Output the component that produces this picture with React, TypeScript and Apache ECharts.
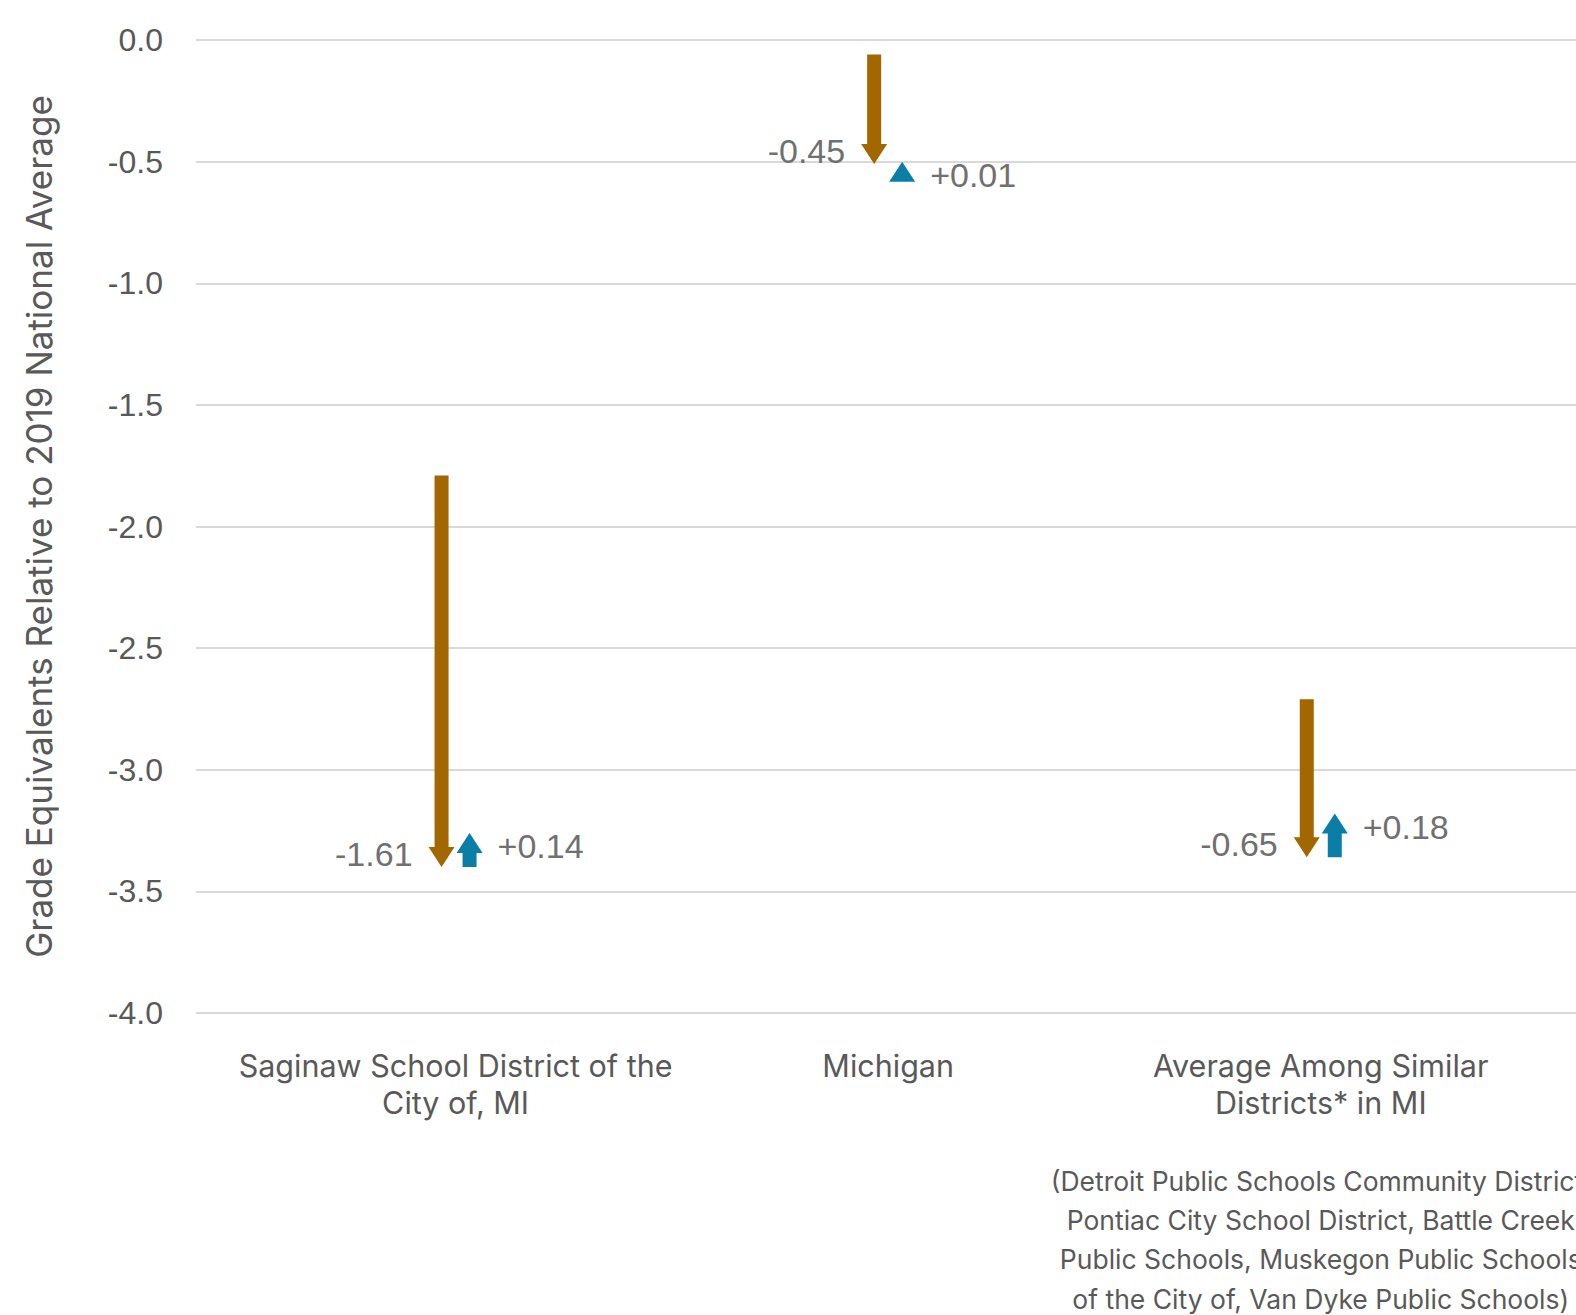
import React, { useEffect, useRef } from "react";
import * as echarts from "echarts";

const categories = [
  "Saginaw School District of the\nCity of, MI",
  "Michigan",
  "Average Among Similar\nDistricts* in MI",
];
const footnote = [
  "(Detroit Public Schools Community District,",
  "Pontiac City School District, Battle Creek",
  "Public Schools, Muskegon Public Schools",
  "of the City of, Van Dyke Public Schools)",
];
const start2019 = [-1.79, -0.06, -2.71];
const decline = [-1.61, -0.45, -0.65];
const recovery = [0.14, 0.01, 0.18];

const BROWN = "#A36700";
const BLUE = "#0A7EA6";
const FONT = "Inter, 'Liberation Sans', Arial, sans-serif";
const NUMFONT = "'Liberation Sans', Arial, Helvetica, sans-serif";

function makeArrow(color: string, offset: number, labelSide: "left" | "right") {
  return (params: any, api: any) => {
    const x = api.value(0);
    const y0 = api.value(1);
    const y1 = api.value(2);
    const delta = api.value(3);
    const p0 = api.coord([x, y0]);
    const p1 = api.coord([x, y1]);
    const cx = p0[0] + offset;
    const a = p0[1];
    const b = p1[1];
    const dir = b >= a ? 1 : -1;
    const headH = 20;
    const hw = 13;
    const sw = 7;
    let pts: number[][];
    const yb = b - dir * headH;
    if (Math.abs(b - a) >= headH) {
      pts = [
        [cx - sw, a],
        [cx + sw, a],
        [cx + sw, yb],
        [cx + hw, yb],
        [cx, b],
        [cx - hw, yb],
        [cx - sw, yb],
      ];
    } else {
      pts = [
        [cx + hw, yb],
        [cx, b],
        [cx - hw, yb],
      ];
    }
    const text = (delta > 0 ? "+" : "") + delta.toFixed(2);
    const label =
      labelSide === "left"
        ? { x: cx - 29, y: b - 13, align: "right" }
        : { x: cx + 28, y: b + 13, align: "left" };
    return {
      type: "group",
      children: [
        { type: "polygon", shape: { points: pts }, style: { fill: color } },
        {
          type: "text",
          style: {
            text,
            x: label.x,
            y: label.y,
            align: label.align,
            verticalAlign: "middle",
            fill: "#707070",
            fontSize: 34,
            fontFamily: NUMFONT,
          },
        },
      ],
    };
  };
}

export default function App() {
  const ref = useRef<HTMLDivElement>(null);
  useEffect(() => {
    document.body.style.margin = "0";
    document.body.style.overflow = "hidden";
    if (!ref.current) return;
    const chart = echarts.init(ref.current, undefined, { renderer: "svg" });
    const declineData = categories.map((_, i) => [
      i,
      start2019[i],
      +(start2019[i] + decline[i]).toFixed(2),
      decline[i],
    ]);
    const recoveryData = categories.map((_, i) => [
      i,
      +(start2019[i] + decline[i]).toFixed(2),
      +(start2019[i] + decline[i] + recovery[i]).toFixed(2),
      recovery[i],
    ]);
    chart.setOption({
      animation: false,
      backgroundColor: "#ffffff",
      grid: {
        left: 196,
        right: 0,
        top: 40,
        bottom: 302,
        containLabel: false,
        outerBoundsMode: "none",
      },
      xAxis: {
        type: "value",
        min: -0.6,
        max: 2.59,
        axisLine: { show: false },
        axisTick: { show: false },
        splitLine: { show: false },
        axisLabel: {
          customValues: [0, 1, 2],
          margin: 34,
          verticalAlign: "top",
          align: "center",
          formatter: (v: number) => {
            const i = Math.round(v);
            let s = categories[i]
              .split("\n")
              .map((l) => `{c|${l}}`)
              .join("\n");
            if (i === 2) {
              s += "\n{sp| }\n" + footnote.map((l) => `{n|${l}}`).join("\n");
            }
            return s;
          },
          rich: {
            c: { fontSize: 30.5, lineHeight: 37, color: "#595959", fontFamily: FONT, align: "center" },
            sp: { fontSize: 10, lineHeight: 40, align: "center" },
            n: { fontSize: 26.5, lineHeight: 39.3, color: "#595959", fontFamily: FONT, align: "center" },
          },
        },
      },
      yAxis: {
        type: "value",
        min: -4,
        max: 0,
        interval: 0.5,
        name: "Grade Equivalents Relative to 2019 National Average",
        nameLocation: "middle",
        nameGap: 140,
        nameTextStyle: { fontSize: 35, color: "#595959", fontFamily: FONT },
        axisLine: { show: false },
        axisTick: { show: false },
        axisLabel: {
          margin: 33,
          fontSize: 32,
          color: "#595959",
          fontFamily: NUMFONT,
          formatter: (v: number) => v.toFixed(1),
        },
        splitLine: { lineStyle: { color: "#D9D9D9", width: 2 } },
      },
      series: [
        {
          type: "custom",
          name: "Decline",
          renderItem: makeArrow(BROWN, -14, "left"),
          data: declineData,
          encode: { x: 0, y: [1, 2] },
          clip: false,
        },
        {
          type: "custom",
          name: "Recovery",
          renderItem: makeArrow(BLUE, 14, "right"),
          data: recoveryData,
          encode: { x: 0, y: [1, 2] },
          clip: false,
        },
      ],
    });
    return () => chart.dispose();
  }, []);
  return <div ref={ref} style={{ width: 1576, height: 1315 }} />;
}
